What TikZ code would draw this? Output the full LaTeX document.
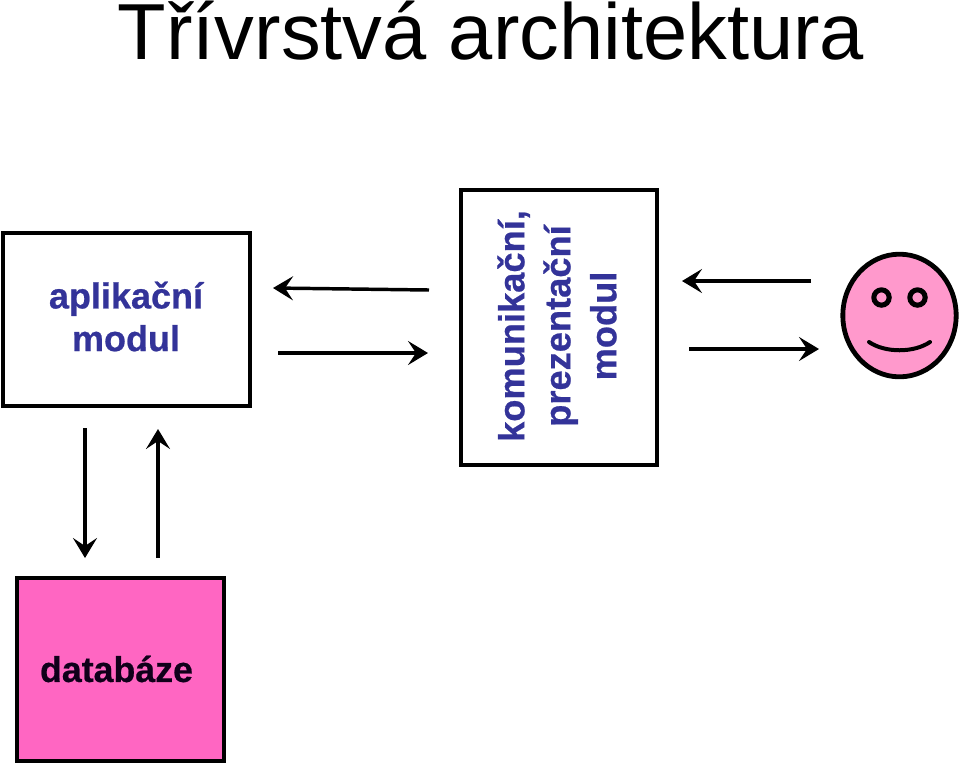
\documentclass[tikz,border=0pt]{standalone}
\usepackage{fontspec}
\setmainfont[BoldFeatures={FakeBold=0.6}]{Liberation Sans}
\usetikzlibrary{arrows.meta,shapes.geometric}
\definecolor{labelblue}{HTML}{333399}
\definecolor{dbpink}{HTML}{FF66C2}
\definecolor{facepink}{HTML}{FF99CC}
\definecolor{labelblack}{HTML}{10001A}
\tikzset{
  x=0.75pt,y=-0.75pt,
  module/.style={draw=black,line width=3pt,fill=white,inner sep=0pt,outer sep=0pt,anchor=center},
  modtext/.style={font=\fontsize{27}{31}\selectfont\bfseries,text=labelblue,align=center,inner sep=0pt},
  flow/.style={line width=2.6pt,-{Stealth[inset=6pt,length=15pt,width=18pt]}},
  eye/.style={circle,draw=black,line width=3.8pt,fill=facepink,inner sep=0pt,minimum size=11.5pt}
}
\begin{document}
\begin{tikzpicture}
\useasboundingbox (0,0) rectangle (960,765);
\node[font=\fontsize{59.6}{60}\selectfont,inner sep=0pt,anchor=base west] (title) at (117.5,59) {Třívrstvá architektura};
% boxes
\node[module,minimum width=185.5pt,minimum height=129.7pt] (app) at (126.5,319.5) {};
\node[modtext] (applabel) at (126,316.5) {aplikační\\[1pt]modul};
\node[module,minimum width=146.5pt,minimum height=206pt] (pres) at (559,327.5) {};
\node[modtext,rotate=90,font=\fontsize{27.2}{34.5}\selectfont\bfseries] (preslabel) at (557,326) {komunikační,\\prezentační\\modul};
\node[module,fill=dbpink,minimum width=155pt,minimum height=137.5pt] (db) at (120.5,669.5) {};
\node[modtext,text=labelblack,font=\fontsize{26.8}{32}\selectfont\bfseries] (dblabel) at (116.5,669) {databáze};
% face
\node[ellipse,draw=black,line width=3.6pt,fill=facepink,inner sep=0pt,minimum width=85pt,minimum height=92pt] (face) at (899.5,315.5) {};
\node[eye] (eyeL) at (881.5,297.5) {};
\node[eye] (eyeR) at (917.5,297.5) {};
\coordinate (smileL) at (869,342);
\coordinate (smileR) at (930,342);
\draw[line width=3pt,line cap=round] (smileL) .. controls (885,353) and (914,353) .. (smileR);
% connectors
\coordinate (a1) at (429,290); \coordinate (a2) at (273,288);
\coordinate (b1) at (278,353); \coordinate (b2) at (428,353);
\coordinate (c1) at (811,281); \coordinate (c2) at (682,281);
\coordinate (d1) at (689,349); \coordinate (d2) at (819,349);
\coordinate (e1) at (85,428); \coordinate (e2) at (85,558);
\coordinate (f1) at (158,558); \coordinate (f2) at (158,429);
\draw[flow] (a1) -- (a2);
\draw[flow] (b1) -- (b2);
\draw[flow] (c1) -- (c2);
\draw[flow] (d1) -- (d2);
\draw[flow] (e1) -- (e2);
\draw[flow] (f1) -- (f2);
\end{tikzpicture}
\end{document}
